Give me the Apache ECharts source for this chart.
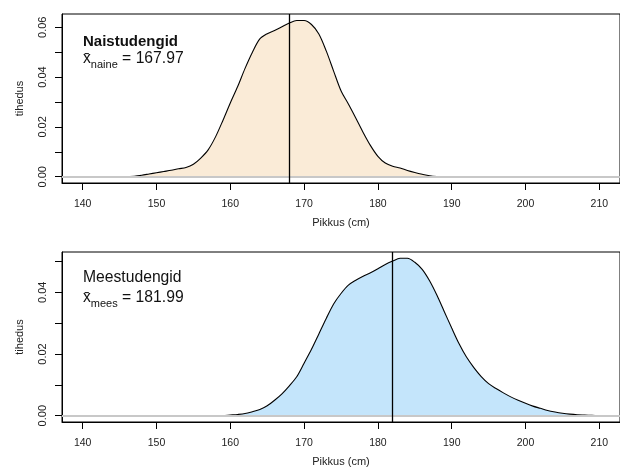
<!DOCTYPE html>
<html><head><meta charset="utf-8">
<script src="https://cdn.jsdelivr.net/npm/echarts@6/dist/echarts.min.js"></script>
<style>html,body{margin:0;padding:0;background:#fff}#c{width:620px;height:468px}</style>
</head><body><div id="c"></div>
<script>
const heights = [140,141,142,143,144,145,146,147,148,149,150,151,152,153,154,155,156,157,158,159,160,161,162,163,164,165,166,167,168,169,170,171,172,173,174,175,176,177,178,179,180,181,182,183,184,185,186,187,188,189,190,191,192,193,194,195,196,197,198,199,200,201,202,203,204,205,206,207,208,209,210];
const femaleDensity = [0,0,0,0,0,0,0,0.0002,0.0006,0.0011,0.0016,0.0021,0.0026,0.0032,0.0037,0.0050,0.0075,0.0108,0.0160,0.0226,0.0296,0.0362,0.0435,0.0500,0.0553,0.0574,0.0587,0.0602,0.0617,0.0627,0.0627,0.0611,0.0573,0.0505,0.0424,0.0345,0.0292,0.0236,0.0178,0.0125,0.0082,0.0055,0.0042,0.0035,0.0025,0.0017,0.0010,0.0004,0.0001,0,0,0,0,0,0,0,0,0,0,0,0,0,0,0,0,0,0,0,0,0,0];
const maleDensity = [0,0,0,0,0,0,0,0,0,0,0,0,0,0,0,0,0,0,0,0,0.0002,0.0004,0.0007,0.0013,0.0020,0.0032,0.0050,0.0071,0.0097,0.0126,0.0170,0.0215,0.0265,0.0315,0.0362,0.0396,0.0423,0.0439,0.0452,0.0463,0.0476,0.0490,0.0501,0.0510,0.0510,0.0497,0.0474,0.0437,0.0390,0.0337,0.0284,0.0233,0.0190,0.0156,0.0127,0.0104,0.0088,0.0074,0.0061,0.0050,0.0040,0.0031,0.0024,0.0017,0.0012,0.0008,0.0005,0.0003,0.0002,0.0001,0];
const femaleMean = 167.97;
const maleMean = 181.99;
const xTicks = [140,150,160,170,180,190,200,210];
const femaleYTicks = [0,0.01,0.02,0.03,0.04,0.05,0.06];
const femaleYLabels = [0,0.02,0.04,0.06];
const maleYTicks = [0,0.01,0.02,0.03,0.04,0.05];
const maleYLabels = [0,0.02,0.04];
const femaleTitle = 'Naistudengid';
const maleTitle = 'Meestudengid';
const femaleSub = 'naine';
const maleSub = 'mees';
const xName = 'Pikkus (cm)';
const yName = 'tihedus';

const FONT = 'Liberation Sans, Arial, Helvetica, sans-serif';
const chart = echarts.init(document.getElementById('c'), null, {renderer: 'canvas'});

function pairs(ys) { return heights.map((h, i) => [h, ys[i]]); }

function xAxisDef(gi) {
  return {
    type: 'value', gridIndex: gi, min: 137.2, max: 212.8,
    name: xName, nameLocation: 'middle', nameGap: 34,
    nameTextStyle: {fontFamily: FONT, fontSize: 11, color: '#222'},
    axisLine: {show: true, onZero: false, lineStyle: {color: '#000', width: 1}},
    splitLine: {show: false},
    axisTick: {show: true, inside: false, length: 7, customValues: xTicks, lineStyle: {color: '#000'}},
    axisLabel: {show: true, customValues: xTicks, margin: 16, fontFamily: FONT, fontSize: 10.5, color: '#222'}
  };
}
function yAxisDef(gi, min, max, ticks, labels) {
  return {
    type: 'value', gridIndex: gi, min: min, max: max,
    name: yName, nameLocation: 'middle', nameGap: 37, nameRotate: 90,
    nameTextStyle: {fontFamily: FONT, fontSize: 11, color: '#222'},
    axisLine: {show: true, onZero: false, lineStyle: {color: '#000', width: 1}},
    splitLine: {show: false},
    axisTick: {show: true, inside: false, length: 7, customValues: ticks, lineStyle: {color: '#000'}},
    axisLabel: {show: true, customValues: labels, rotate: 90, margin: 14, fontFamily: FONT, fontSize: 11, color: '#222',
      formatter: v => Number(v).toFixed(2)}
  };
}
function zeroLine(gi) {
  return {
    type: 'line', xAxisIndex: gi, yAxisIndex: gi, data: [], silent: true, z: 1,
    markLine: {
      silent: true, symbol: 'none', label: {show: false}, animation: false,
      data: [{yAxis: 0, lineStyle: {color: '#c8c8c8', width: 2, type: 'solid'}}]
    }
  };
}
function densitySeries(gi, ys, fill, mean) {
  return {
    type: 'line', xAxisIndex: gi, yAxisIndex: gi, data: pairs(ys),
    smooth: 0.3, showSymbol: false, symbol: 'none', silent: true,
    lineStyle: {color: '#000', width: 1.1},
    areaStyle: {color: fill, opacity: 1, origin: 0},
    z: 3,
    markLine: {
      silent: true, symbol: 'none', label: {show: false}, animation: false,
      data: [{xAxis: mean, lineStyle: {color: '#000', width: 1.3, type: 'solid'}}]
    }
  };
}

const option = {
  animation: false,
  backgroundColor: '#fff',
  grid: [
    {left: 62, top: 14, width: 565, height: 169, show: true, borderColor: '#000', borderWidth: 1, containLabel: false},
    {left: 62, top: 252, width: 565, height: 170, show: true, borderColor: '#000', borderWidth: 1, containLabel: false}
  ],
  xAxis: [xAxisDef(0), xAxisDef(1)],
  yAxis: [
    yAxisDef(0, -0.00251, 0.06531, femaleYTicks, femaleYLabels),
    yAxisDef(1, -0.00204, 0.05304, maleYTicks, maleYLabels)
  ],
  series: [
    zeroLine(0),
    zeroLine(1),
    densitySeries(0, femaleDensity, '#FAEBD7', femaleMean),
    densitySeries(1, maleDensity, '#C4E5FB', maleMean)
  ],
  graphic: [
    {type: 'text', left: 83, top: 34, style: {text: femaleTitle, font: 'bold 15px ' + FONT, fill: '#111'}},
    {type: 'text', left: 83, top: 51, style: {
      text: '{x|x\u0304}{s|' + femaleSub + '}{t| = ' + femaleMean.toFixed(2) + '}',
      rich: {
        x: {fontFamily: FONT, fontSize: 15.7, lineHeight: 22, verticalAlign: 'middle', fill: '#111'},
        s: {fontFamily: FONT, fontSize: 11, lineHeight: 10, verticalAlign: 'bottom', fill: '#111'},
        t: {fontFamily: FONT, fontSize: 15.7, lineHeight: 22, verticalAlign: 'middle', fill: '#111'}
      }}},
    {type: 'text', left: 83, top: 270, style: {text: maleTitle, font: '15.7px ' + FONT, fill: '#111'}},
    {type: 'text', left: 83, top: 290, style: {
      text: '{x|x\u0304}{s|' + maleSub + '}{t| = ' + maleMean.toFixed(2) + '}',
      rich: {
        x: {fontFamily: FONT, fontSize: 15.7, lineHeight: 22, verticalAlign: 'middle', fill: '#111'},
        s: {fontFamily: FONT, fontSize: 11, lineHeight: 10, verticalAlign: 'bottom', fill: '#111'},
        t: {fontFamily: FONT, fontSize: 15.7, lineHeight: 22, verticalAlign: 'middle', fill: '#111'}
      }}}
  ]
};
chart.setOption(option);
</script>
</body></html>
